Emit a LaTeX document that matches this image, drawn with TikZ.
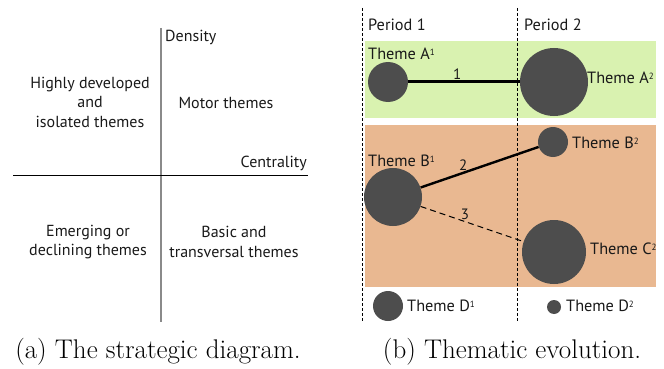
\documentclass[tikz,border=0pt]{standalone}
\usepackage{fontspec}
\newfontfamily\labelfont{PT Sans}
\definecolor{bubblegray}{HTML}{4D4D4D}
\definecolor{greenband}{HTML}{D9F2B0}
\definecolor{orangeband}{HTML}{E9B891}
\definecolor{axisgray}{HTML}{8A8A8A}
\newcommand{\supnum}[1]{\raisebox{0.55ex}{\fontsize{9}{9}\selectfont #1}}
\begin{document}
\begin{tikzpicture}[x=1pt,y=-1pt,
  lab/.style={font=\labelfont\fontsize{16}{19.5}\selectfont, text=black!90, inner sep=0pt, align=center},
  theme/.style={font=\labelfont\fontsize{16.3}{18}\selectfont, text=black!90, inner sep=0pt, anchor=west},
  num/.style={font=\labelfont\fontsize{15}{16}\selectfont, text=black!90, inner sep=1pt},
  bubble/.style={circle, fill=bubblegray, inner sep=0pt},
  period/.style={draw=black, line width=0.9pt, dash pattern=on 3pt off 2pt},
  captext/.style={font=\fontsize{27}{32}\selectfont, inner sep=0pt}
]
\useasboundingbox (0,0) rectangle (664,369);
% ---------- (a) strategic diagram
\coordinate (vtop) at (161,28);
\coordinate (vbot) at (161,322);
\coordinate (hl) at (13,175);
\coordinate (hr) at (308,175);
\draw[axisgray, line width=1.6pt] (vtop) -- (vbot);
\draw[black, line width=1pt] (hl) -- (hr);
\node[lab, anchor=west] (density) at (165,37) {Density};
\node[lab, anchor=east] (centrality) at (307,163) {Centrality};
\node[lab] (hd) at (90,102) {Highly developed\\and\\isolated themes};
\node[lab] (motor) at (226,103) {Motor themes};
\node[lab] (emerg) at (88,242) {Emerging or\\declining themes};
\node[lab] (basic) at (234,242) {Basic and\\transversal themes};
% ---------- (b) thematic evolution
\fill[greenband] (365,41) rectangle (656,118);
\fill[orangeband] (365,125) rectangle (656,287);
\coordinate (p1t) at (362,8);
\coordinate (p1b) at (362,322);
\coordinate (p2t) at (517,8);
\coordinate (p2b) at (517,322);
\draw[period] (p1t) -- (p1b);
\draw[period] (p2t) -- (p2b);
\node[theme] (per1) at (368,25) {Period 1};
\node[theme] (per2) at (524,25) {Period 2};
% bubbles
\node[bubble, minimum size=40pt] (A1) at (388,82) {};
\node[bubble, minimum size=68pt] (A2) at (554,82) {};
\node[bubble, minimum size=30pt] (B2) at (553,142) {};
\node[bubble, minimum size=58pt] (B1) at (393,197) {};
\node[bubble, minimum size=64pt] (C2) at (554,252) {};
\node[bubble, minimum size=30pt] (D1) at (388,306) {};
\node[bubble, minimum size=14pt] (D2) at (554,307) {};
% labels
\node[theme] (tA1) at (368,54) {Theme A\supnum{1}};
\node[theme] (tA2) at (587,78) {Theme A\supnum{2}};
\node[theme] (tB1) at (368,161) {Theme B\supnum{1}};
\node[theme] (tB2) at (572,143) {Theme B\supnum{2}};
\node[theme] (tC2) at (590,249) {Theme C\supnum{2}};
\node[theme] (tD1) at (407,306) {Theme D\supnum{1}};
\node[theme] (tD2) at (566,306) {Theme D\supnum{2}};
% connectors
\draw[black, line width=3pt] (A1) -- node[num, pos=0.44, above] (n1) {1} (A2);
\draw[black, line width=2.4pt] (B1) -- node[num, pos=0.36, above] (n2) {2} (B2);
\draw[black, line width=1pt, dash pattern=on 6pt off 4pt] (B1) -- node[num, pos=0.43, above] (n3) {3} (C2);
% ---------- captions
\node[captext] (capa) at (158,352) {(a)\ The strategic diagram.};
\node[captext] (capb) at (512,352) {(b)\ Thematic evolution.};
\end{tikzpicture}
\end{document}
